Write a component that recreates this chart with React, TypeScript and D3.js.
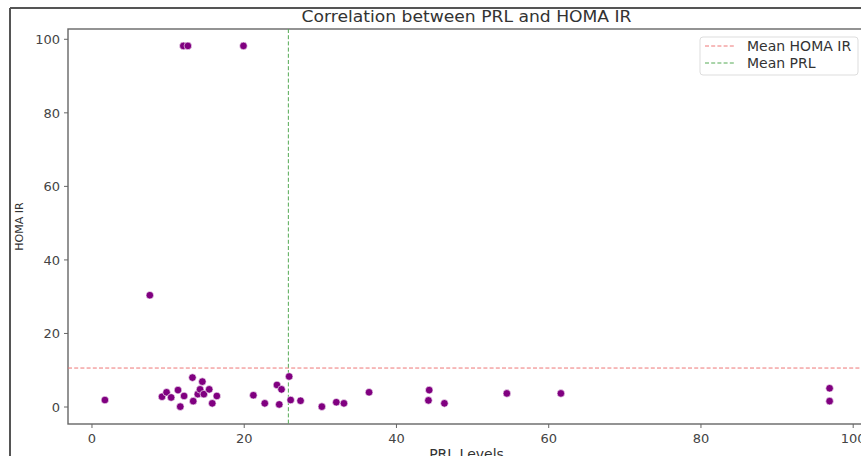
import React from "react";
import * as d3 from "d3";

const prl = [1.7, 7.6, 9.2, 9.8, 10.4, 11.3, 11.6, 12.1, 13.3, 13.2, 13.9, 14.2, 14.5, 14.7, 15.4, 15.8, 16.4, 21.2, 22.7, 24.3, 24.9, 24.6, 25.9, 26.1, 27.4, 30.2, 32.1, 33.1, 36.4, 44.3, 44.2, 46.3, 54.5, 61.6, 96.9, 96.9, 12.0, 12.6, 19.9];
const homa = [1.9, 30.4, 2.8, 4.0, 2.6, 4.6, 0.1, 3.0, 1.6, 8.0, 3.5, 4.8, 6.9, 3.5, 4.8, 1.0, 3.0, 3.2, 1.0, 6.0, 4.8, 0.7, 8.3, 1.9, 1.7, 0.1, 1.3, 1.0, 4.0, 4.6, 1.8, 1.0, 3.7, 3.7, 5.1, 1.6, 98.2, 98.2, 98.2];
const meanHoma = 10.6;
const meanPrl = 25.8;
const xTicks = [0, 20, 40, 60, 80, 100];
const yTicks = [0, 20, 40, 60, 80, 100];
const legendLabels = ["Mean HOMA IR", "Mean PRL"];

export default function App() {
  const W = 861, H = 456;
  const L = 68, R = 865, T = 29, B = 424;
  const x = d3.scaleLinear().domain([-3.15, 101.55]).range([L, R]);
  const y = d3.scaleLinear().domain([-4.62, 102.8]).range([B, T]);
  const font = "DejaVu Sans, sans-serif";
  const tickColor = "#444";
  return (
    <svg width={W} height={H} style={{ position: "absolute", left: 0, top: 0 }} fontFamily={font}>
      <rect x={0} y={0} width={W} height={H} fill="#fff" />
      {/* outer frame */}
      <line x1={10} y1={8} x2={W} y2={8} stroke="#555" strokeWidth={2} />
      <line x1={10} y1={8} x2={10} y2={H} stroke="#555" strokeWidth={2} />
      <defs>
        <clipPath id="ax">
          <rect x={L} y={T} width={R - L} height={B - T} />
        </clipPath>
      </defs>
      {/* axes frame */}
      <rect x={L} y={T} width={R - L} height={B - T} fill="#fff" stroke="#666" strokeWidth={1.4} />
      {/* mean lines */}
      <g clipPath="url(#ax)">
        <line x1={L} x2={R} y1={y(meanHoma)} y2={y(meanHoma)} stroke="#ee7777" strokeWidth={1} strokeDasharray="4,2.2" />
        <line x1={x(meanPrl)} x2={x(meanPrl)} y1={T} y2={B} stroke="#55aa55" strokeWidth={1} strokeDasharray="4,2.2" />
        {prl.map((v, i) => (
          <circle key={i} cx={x(v)} cy={y(homa[i])} r={3.8} fill="#800080" stroke="#fff" strokeWidth={0.6} />
        ))}
      </g>
      {/* x ticks */}
      {xTicks.map((t) => (
        <g key={"x" + t}>
          <line x1={x(t)} x2={x(t)} y1={B} y2={B + 4} stroke="#666" strokeWidth={1} />
          <text x={x(t)} y={443} textAnchor="middle" fontSize={13} fill={tickColor}>{t}</text>
        </g>
      ))}
      {/* y ticks */}
      {yTicks.map((t) => (
        <g key={"y" + t}>
          <line x1={L - 4} x2={L} y1={y(t)} y2={y(t)} stroke="#666" strokeWidth={1} />
          <text x={L - 8} y={y(t)} dy="0.36em" textAnchor="end" fontSize={13} fill={tickColor}>{t}</text>
        </g>
      ))}
      {/* title */}
      <text x={(L + R) / 2} y={22} textAnchor="middle" fontSize={15} fill="#333" textLength={330} lengthAdjust="spacingAndGlyphs">
        Correlation between PRL and HOMA IR
      </text>
      {/* axis labels */}
      <text x={(L + R) / 2} y={459} textAnchor="middle" fontSize={14} fill="#333">PRL Levels</text>
      <text transform={`translate(23,${(T + B) / 2}) rotate(-90)`} textAnchor="middle" fontSize={11} fill="#333">HOMA IR</text>
      {/* legend */}
      <rect x={700} y={37} width={158} height={38} rx={3} fill="#fff" stroke="#ddd" strokeWidth={1} />
      <line x1={705} x2={736} y1={46} y2={46} stroke="#ee7777" strokeWidth={1} strokeDasharray="4,2.2" />
      <line x1={705} x2={736} y1={63} y2={63} stroke="#55aa55" strokeWidth={1} strokeDasharray="4,2.2" />
      <text x={747} y={50.5} fontSize={14} fill="#333">{legendLabels[0]}</text>
      <text x={747} y={67.5} fontSize={14} fill="#333">{legendLabels[1]}</text>
    </svg>
  );
}
